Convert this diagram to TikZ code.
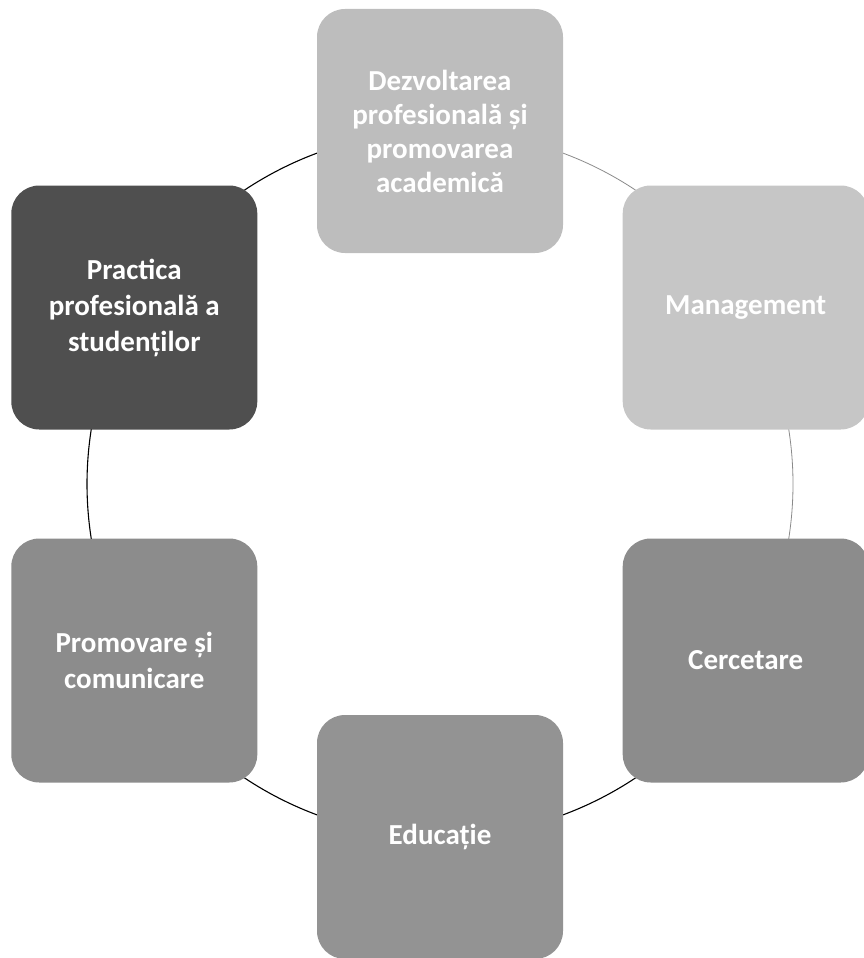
\documentclass[tikz,border=0pt]{standalone}
\usepackage{fontspec}
\setmainfont{Carlito}
\usetikzlibrary{backgrounds}
\definecolor{boxlight}{HTML}{BDBDBD}
\definecolor{boxlighter}{HTML}{C6C6C6}
\definecolor{boxdark}{HTML}{4F4F4F}
\definecolor{boxmid}{HTML}{8C8C8C}
\definecolor{boxmidb}{HTML}{939393}
\definecolor{connfaint}{HTML}{8A8A8A}
\tikzset{
  card/.style={rounded corners=28pt, minimum width=246pt, minimum height=244pt,
    inner sep=4pt, align=center, text=white,
    font=\bfseries\fontsize{29}{36}\selectfont},
  cardtight/.style={card, font=\bfseries\fontsize{29}{34}\selectfont},
  conn/.style={draw=black, line width=1.1pt},
  connlight/.style={draw=connfaint, line width=0.8pt},
}
\begin{document}
\begin{tikzpicture}
\useasboundingbox (0,0) rectangle (864pt,-958pt);
\coordinate (ctr) at (440pt,-484pt);
\node[cardtight, fill=boxlight] (dez) at ([shift={(90:353pt)}]ctr)  {Dezvoltarea\\profesională și\\promovarea\\academică};
\node[card, fill=boxdark]    (pra) at ([shift={(150:353pt)}]ctr) {Practica\\profesională a\\studenților};
\node[card, fill=boxmid]     (pro) at ([shift={(210:353pt)}]ctr) {Promovare și\\comunicare};
\node[card, fill=boxmidb]    (edu) at ([shift={(270:353pt)}]ctr) {Educație};
\node[card, fill=boxmid]     (cer) at ([shift={(330:353pt)}]ctr) {Cercetare};
\node[card, fill=boxlighter] (man) at ([shift={(30:353pt)}]ctr)  {Management};
\begin{scope}[on background layer]
  \draw[conn]      (dez.center) arc[start angle=90,  end angle=150, radius=353pt];
  \draw[conn]      (pra.center) arc[start angle=150, end angle=210, radius=353pt];
  \draw[conn]      (pro.center) arc[start angle=210, end angle=270, radius=353pt];
  \draw[conn]      (edu.center) arc[start angle=270, end angle=330, radius=353pt];
  \draw[connlight] (cer.center) arc[start angle=330, end angle=390, radius=353pt];
  \draw[connlight] (man.center) arc[start angle=30,  end angle=90,  radius=353pt];
\end{scope}
\end{tikzpicture}
\end{document}
